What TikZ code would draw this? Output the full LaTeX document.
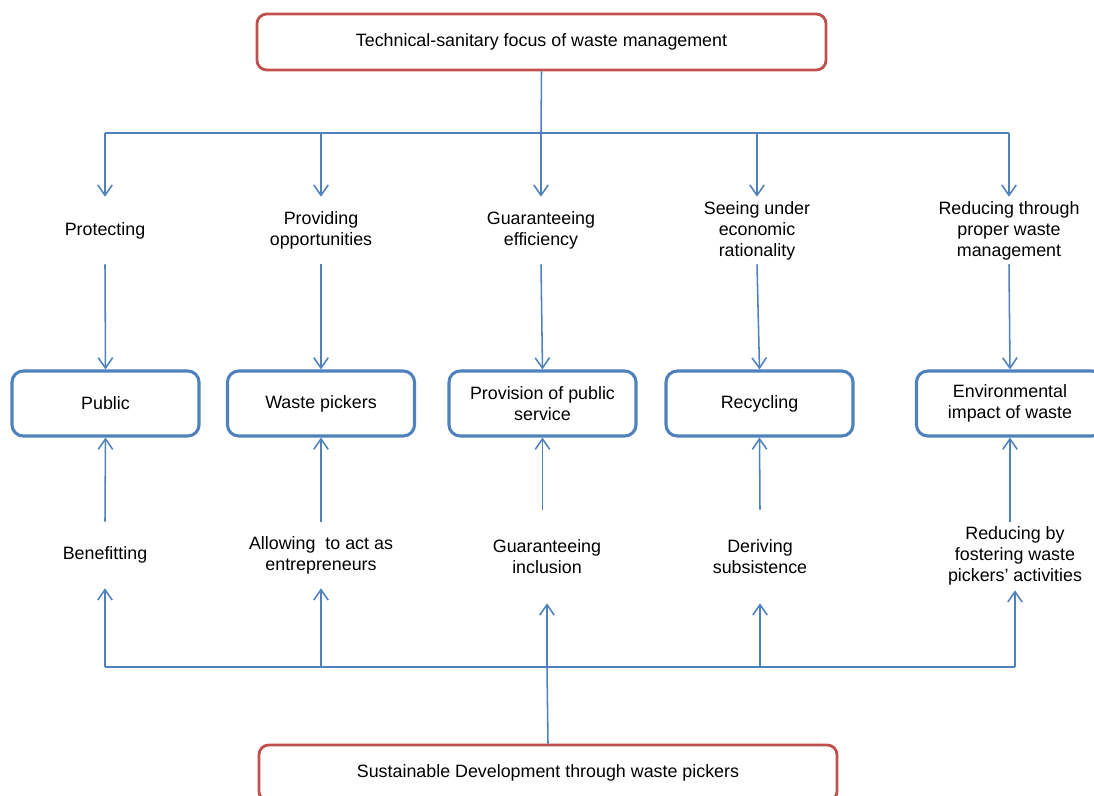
\documentclass[tikz,border=0pt]{standalone}
\usepackage{fontspec}
\setmainfont{Liberation Sans}
\usetikzlibrary{arrows.meta,positioning}
\definecolor{lineblue}{RGB}{79,129,189}
\definecolor{framered}{RGB}{192,80,77}

\begin{document}
\begin{tikzpicture}[x=0.025cm, y=-0.025cm,
  font=\fontsize{12.7}{15}\selectfont,
  focus/.style={draw=framered, line width=2pt, rounded corners=7pt, inner sep=2pt, minimum height=1.4cm},
  target/.style={draw=lineblue, line width=2.2pt, rounded corners=8pt, align=center, inner sep=2pt, minimum width=4.675cm, minimum height=1.625cm},
  verb/.style={align=center, inner sep=0pt, minimum height=1.675cm},
  link/.style={draw=lineblue, line width=1.1pt},
  arr/.style={link, -{Straight Barb[length=2.6mm, width=3.6mm]}}]
\useasboundingbox (0,0) rectangle (1094,796);
\clip (0,0) rectangle (1094,796);

% Top and bottom frames
\node[focus, minimum width=14.225cm] (top) at (541.5,42) {Technical-sanitary focus of waste management};
\node[focus, minimum width=14.45cm] (bottom) at (548,773) {Sustainable Development through waste pickers};

% Central row of boxes
\node[target] (public) at (105.5,403.5) {Public};
\node[target] (pickers) at (321,403.5) {Waste pickers};
\node[target] (service) at (542.5,403.5) {Provision of public\\service};
\node[target] (recycling) at (759.5,403.5) {Recycling};
\node[target] (impact) at (1010,403.5) {Environmental\\impact of waste};

% Upper labels
\node[verb] (protect) at (105,230.5) {Protecting};
\node[verb] (provide) at (321,230.5) {Providing\\opportunities};
\node[verb] (efficiency) at (541,230.5) {Guaranteeing\\efficiency};
\node[verb] (rationality) at (757,230.5) {Seeing under\\economic\\rationality};
\node[verb] (reducing) at (1009,230.5) {Reducing through\\proper waste\\management};

% Lower labels
\node[verb, minimum height=1.65cm] (benefit) at (105,555) {Benefitting};
\node[verb, minimum height=1.65cm] (entrepreneur) at (321,555) {Allowing\ \ to act as\\entrepreneurs};
\node[verb, minimum height=2.325cm] (inclusion) at (547,556.5) {Guaranteeing\\inclusion};
\node[verb, minimum height=2.325cm] (subsistence) at (760,556.5) {Deriving\\subsistence};
\node[verb, minimum height=1.7cm] (fostering) at (1015,556) {Reducing by\\fostering waste\\pickers' activities};

% Bus coordinates
\coordinate (t1) at (105,133);
\coordinate (t2) at (321,133);
\coordinate (t3) at (541,133);
\coordinate (t4) at (757,133);
\coordinate (t5) at (1009,133);
\coordinate (b1) at (105,667);
\coordinate (b2) at (321,667);
\coordinate (b3) at (547,667);
\coordinate (b4) at (760,667);
\coordinate (b5) at (1015,667);

% Top bus
\draw[link] (top.south) -- (t3);
\draw[link] (t1) -- (t5);
\foreach \t/\v in {t1/protect, t2/provide, t3/efficiency, t4/rationality, t5/reducing}
  \draw[arr] (\t) -- (\v.north);
\draw[arr] (protect.south) -- (public.north);
\draw[arr] (provide.south) -- (pickers.north);
\draw[arr] (efficiency.south) -- (service.north);
\draw[arr] (rationality.south) -- (recycling.north);
\draw[arr] (reducing.south) -- (impact.north);

% Bottom bus
\draw[link] (bottom.north) -- (b3);
\draw[link] (b1) -- (b5);
\foreach \b/\v in {b1/benefit, b2/entrepreneur, b3/inclusion, b4/subsistence, b5/fostering}
  \draw[arr] (\b) -- (\v.south);
\draw[arr] (benefit.north) -- (public.south);
\draw[arr] (entrepreneur.north) -- (pickers.south);
\draw[arr] (service.south |- inclusion.north) -- (service.south);
\draw[arr] (subsistence.north) -- (recycling.south);
\draw[arr] (impact.south |- fostering.north) -- (impact.south);

\end{tikzpicture}
\end{document}
